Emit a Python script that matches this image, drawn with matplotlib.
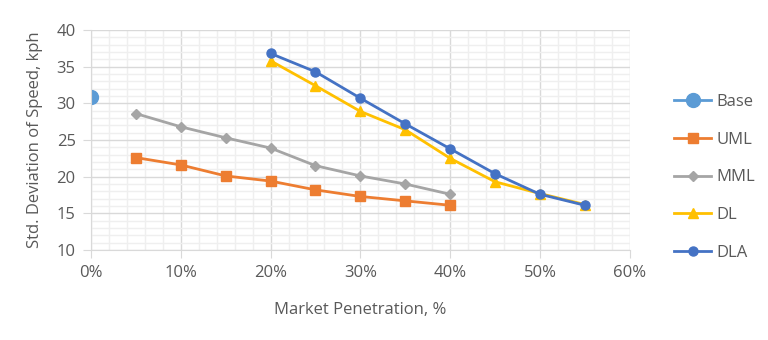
import matplotlib.pyplot as plt
from matplotlib.ticker import MultipleLocator, PercentFormatter

# market penetration (%) and std dev of speed (kph)
base_x = [0]
base_y = [30.8]
uml_x = [5, 10, 15, 20, 25, 30, 35, 40]
uml_y = [22.6, 21.6, 20.1, 19.4, 18.2, 17.3, 16.7, 16.1]
mml_x = [5, 10, 15, 20, 25, 30, 35, 40]
mml_y = [28.6, 26.8, 25.3, 23.9, 21.5, 20.1, 19.0, 17.6]
dl_x = [20, 25, 30, 35, 40, 45, 50, 55]
dl_y = [35.8, 32.4, 28.9, 26.4, 22.5, 19.3, 17.7, 16.2]
dla_x = [20, 25, 30, 35, 40, 45, 50, 55]
dla_y = [36.8, 34.3, 30.7, 27.2, 23.8, 20.4, 17.6, 16.1]

plt.rcParams['font.family'] = ['Open Sans', 'DejaVu Sans']
txt = '#595959'

fig = plt.figure(figsize=(7.68, 3.4), dpi=100)
ax = fig.add_axes([0.1185, 0.2647, 0.7015, 0.6471])

ax.plot(base_x, base_y, color='#5B9BD5', marker='o', markersize=10, lw=2, label='Base')
ax.plot(uml_x, uml_y, color='#ED7D31', marker='s', markersize=6.5, lw=2, label='UML')
ax.plot(mml_x, mml_y, color='#A5A5A5', marker='D', markersize=5, lw=2, label='MML')
ax.plot(dl_x, dl_y, color='#FFC000', marker='^', markersize=7.5, lw=2, label='DL')
ax.plot(dla_x, dla_y, color='#4472C4', marker='o', markersize=6.5, lw=2, label='DLA')

ax.set_xlim(0, 60)
ax.set_ylim(10, 40)
ax.xaxis.set_major_locator(MultipleLocator(10))
ax.xaxis.set_minor_locator(MultipleLocator(2))
ax.yaxis.set_major_locator(MultipleLocator(5))
ax.yaxis.set_minor_locator(MultipleLocator(1))
ax.xaxis.set_major_formatter(PercentFormatter(decimals=0))

ax.grid(which='major', color='#D9D9D9', lw=1)
ax.grid(which='minor', color='#EFEFEF', lw=1)
ax.set_axisbelow(True)
for s in ax.spines.values():
    s.set_visible(False)
ax.spines['bottom'].set_visible(True)
ax.spines['bottom'].set_color('#D9D9D9')
ax.spines['left'].set_visible(True)
ax.spines['left'].set_color('#D9D9D9')
ax.tick_params(which='major', length=6, color='#D9D9D9', labelsize=12, labelcolor=txt, pad=5)
ax.tick_params(which='minor', length=0)

ax.set_xlabel('Market Penetration, %', fontsize=12, color=txt, labelpad=15)
ax.set_ylabel('Std. Deviation of Speed, kph', fontsize=12, color=txt, labelpad=10)

leg = ax.legend(loc='center left', bbox_to_anchor=(1.055, 0.33), frameon=False,
                fontsize=12, labelspacing=1.3, handlelength=2.2, handletextpad=0.3)
for t in leg.get_texts():
    t.set_color(txt)

fig.savefig('out.png', dpi=100)
